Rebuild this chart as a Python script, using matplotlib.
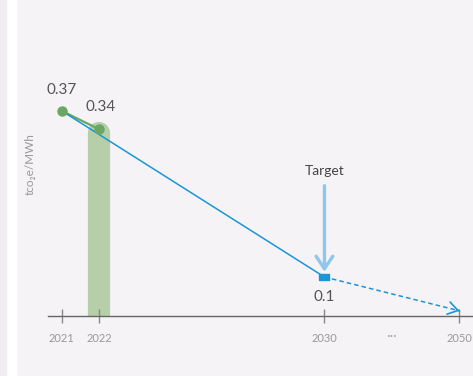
import matplotlib
matplotlib.use("Agg")
import matplotlib.pyplot as plt
from matplotlib.patches import Rectangle

plt.rcParams['font.family'] = ['Lato', 'DejaVu Sans']

# data
years = ['2021', '2022', '2030', '2050']
xpos = [0, 1, 7, 10.6]          # broken time axis, category positions
actual = [0.37, 0.34]           # tco2e/MWh, 2021-2022
target_2030 = 0.1
end_2050 = 0.045                # dashed trajectory end (schematic)

blue = '#1a95d8'
green = '#6aa765'
bar_green = '#b6cfa8'
light_blue = '#8fc6ec'
bg = '#f5f3f5'

fig = plt.figure(figsize=(4.73, 3.76), dpi=100, facecolor=bg)
# left white strip of the panel
fig.patches.append(Rectangle((6 / 473, 0), 10 / 473, 1, transform=fig.transFigure,
                             color='white', zorder=0))
fig.patches.append(Rectangle((0, 0), 6 / 473, 1, transform=fig.transFigure,
                             color='#efedf0', zorder=0))

ax = fig.add_axes([48 / 473, 1 - 316 / 376, 425 / 473, 316 / 376])
ax.set_facecolor('none')
ax.set_xlim(-0.37, 10.96)
ax.set_ylim(0.0366, 0.5504)

# rounded green bar for 2022
ax.plot([xpos[1], xpos[1]], [0.0, actual[1] - 0.006], color=bar_green, lw=16,
        solid_capstyle='round', zorder=1)

# green segment 2021-2022
ax.plot(xpos[:2], actual, color=green, lw=1.6, zorder=2)
# blue line 2021 -> 2030 target
ax.plot([xpos[0], xpos[2]], [actual[0], target_2030], color=blue, lw=1.1, zorder=3)
ax.plot(xpos[:2], actual, 'o', color=green, ms=6.5, zorder=4)

# dashed trajectory to 2050
ax.plot([xpos[2], xpos[3]], [target_2030, end_2050], color=blue, lw=1.1,
        dashes=(3, 2), zorder=3)
dx = xpos[3] - xpos[2]
dy = end_2050 - target_2030
ax.annotate('', xy=(xpos[3], end_2050), xytext=(xpos[3] - 0.02 * dx, end_2050 - 0.02 * dy),
            arrowprops=dict(arrowstyle='->,head_length=0.7,head_width=0.45', color=blue, lw=1.2),
            zorder=3)

# target marker
rect = [(-1, -0.6), (1, -0.6), (1, 0.6), (-1, 0.6), (-1, -0.6)]
ax.plot([xpos[2]], [target_2030], marker=rect, color=blue, ms=7.5, zorder=5)

# target arrow
ax.annotate('', xy=(xpos[2], target_2030 + 0.004), xytext=(xpos[2], 0.253),
            arrowprops=dict(arrowstyle='->,head_length=0.9,head_width=0.6',
                            color=light_blue, lw=2.4), zorder=4)
ax.text(xpos[2], 0.262, 'Target', ha='center', va='bottom', fontsize=10, color='#444444')

# value labels
ax.annotate(f'{actual[0]:.2f}', (xpos[0], actual[0]), xytext=(0, 10), textcoords='offset points',
            ha='center', va='bottom', fontsize=11, color='#555555')
ax.annotate(f'{actual[1]:.2f}', (xpos[1], actual[1]), xytext=(1, 11), textcoords='offset points',
            ha='center', va='bottom', fontsize=11, color='#555555')
ax.annotate(f'{target_2030:g}', (xpos[2], target_2030), xytext=(0, -9), textcoords='offset points',
            ha='center', va='top', fontsize=11, color='#555555')

# axes styling
for s in ['top', 'right', 'left']:
    ax.spines[s].set_visible(False)
ax.spines['bottom'].set_color('#666666')
ax.spines['bottom'].set_linewidth(1)
ax.set_yticks([])
ax.set_xticks(xpos)
ax.set_xticklabels(years)
ax.tick_params(axis='x', direction='inout', length=10, width=1, color='#888888',
               labelsize=8, labelcolor='#999999', pad=7)
ax.text((xpos[2] + xpos[3]) / 2, -0.062, '···', transform=ax.get_xaxis_transform(),
        ha='center', va='center', fontsize=10, color='#aaaaaa')

ax.set_ylabel('tco₂e/MWh', fontsize=8.5, color='#999999')
ax.yaxis.set_label_coords(-0.03, 0.48)

fig.savefig('out.png', dpi=100, facecolor=bg)
